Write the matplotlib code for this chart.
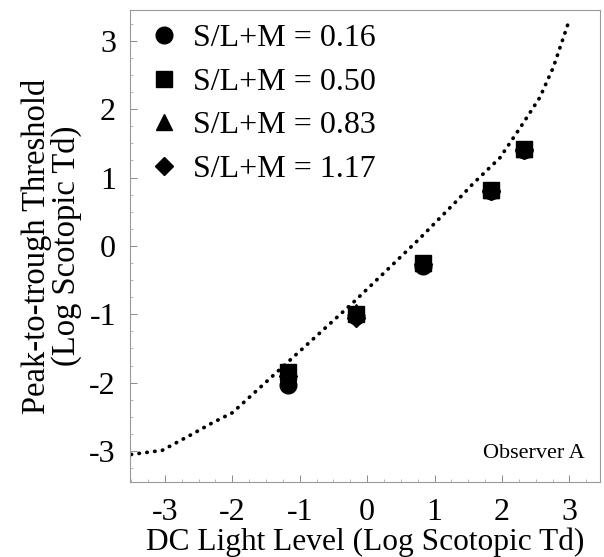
import matplotlib
matplotlib.use("Agg")
import matplotlib.pyplot as plt
from matplotlib.ticker import MultipleLocator

plt.rcParams['font.family'] = ['Liberation Serif', 'DejaVu Serif']

# Data
dc_level = [-1.17, -0.17, 0.83, 1.83, 2.33]
thr_016 = [-2.03, -1.02, -0.29, 0.80, 1.40]
thr_050 = [-1.85, -0.99, -0.25, 0.82, 1.42]
thr_083 = [-1.88, -0.96, -0.25, 0.82, 1.42]
thr_117 = [-1.90, -1.06, -0.27, 0.80, 1.40]
labels = ["S/L+M = 0.16", "S/L+M = 0.50", "S/L+M = 0.83", "S/L+M = 1.17"]

curve_x = [-3.5, -3.04, -2.59, -2.3, -2.0, -1.81, -1.51, -1.2, -0.21, 0.74, 1.33, 1.57, 1.97, 2.27, 2.56, 2.76, 2.98]
curve_y = [-3.05, -2.99, -2.75, -2.59, -2.44, -2.27, -2.0, -1.72, -0.83, 0.07, 0.66, 0.91, 1.29, 1.73, 2.17, 2.61, 3.25]

ticks = [-3, -2, -1, 0, 1, 2, 3]

fig = plt.figure(figsize=(6.04, 5.57), dpi=100)
ax = fig.add_axes([0.215, 0.135, 0.778, 0.847])

ax.plot(curve_x, curve_y, linestyle=(0, (0.1, 2.0)), color='black', lw=2.7,
        dash_capstyle='round', solid_capstyle='round')

markers = ['o', 's', '^', 'D']
sizes = [12, 12, 12, 9.5]
for ys, m, s, lab in zip([thr_016, thr_050, thr_083, thr_117], markers, sizes, labels):
    ax.plot(dc_level, ys, linestyle='none', marker=m, markersize=s, color='black', label=lab)

ax.set_xlim(-3.52, 3.45)
ax.set_ylim(-3.45, 3.45)
ax.set_xticks(ticks)
ax.set_yticks(ticks)
ax.set_xticklabels([str(t) for t in ticks])
ax.set_yticklabels([str(t) for t in ticks])
ax.xaxis.set_minor_locator(MultipleLocator(0.25))
ax.yaxis.set_minor_locator(MultipleLocator(0.25))
ax.tick_params(which='major', direction='in', length=5, width=0.6, color='#777777', labelsize=23)
ax.tick_params(axis='x', which='major', pad=12)
ax.tick_params(axis='y', which='major', pad=10)
ax.tick_params(which='minor', direction='in', length=2.5, width=0.5, color='#999999')
for sp in ax.spines.values():
    sp.set_color('#999999')
    sp.set_linewidth(0.8)

ax.set_xlabel("DC Light Level (Log Scotopic Td)", fontsize=22.6, labelpad=0)
ax.set_ylabel("Peak-to-trough Threshold\n(Log Scotopic Td)", fontsize=23.5, labelpad=5, linespacing=0.95)

ax.text(3.23, -3.03, "Observer A", fontsize=16, ha='right', va='center')

leg = ax.legend(loc='upper left', frameon=False, fontsize=23, handlelength=0.8,
                handletextpad=0.5, labelspacing=0.45, borderaxespad=0.1,
                bbox_to_anchor=(0.012, 1.005))

fig.savefig("out.png", dpi=100)
